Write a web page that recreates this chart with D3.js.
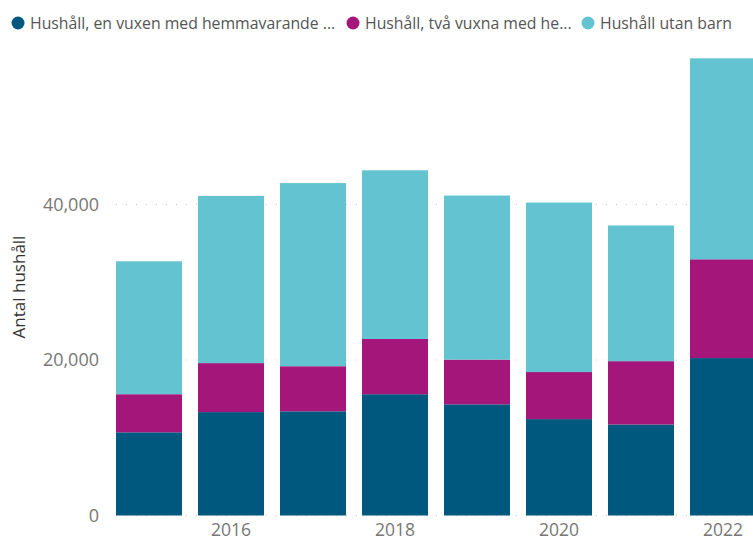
<!DOCTYPE html>
<html>
<head>
<meta charset="utf-8">
<script src="https://cdn.jsdelivr.net/npm/d3@7"></script>
<style>
  body { margin: 0; background: #fff; }
  svg { display: block; font-family: "Segoe UI", "Open Sans", sans-serif; }
</style>
</head>
<body>
<div id="grafico"></div>
<script>
const ar = [2015, 2016, 2017, 2018, 2019, 2020, 2021, 2022];
const enVuxen = [10700, 13300, 13400, 15600, 14300, 12400, 11700, 20250];
const tvaVuxna = [4900, 6300, 5800, 7100, 5750, 6050, 8150, 12700];
const utanBarn = [17100, 21500, 23550, 21700, 21100, 21800, 17450, 25850];

const serier = ["enVuxen", "tvaVuxna", "utanBarn"];
const namn = ["Hushåll, en vuxen med hemmavarande ...", "Hushåll, två vuxna med he...", "Hushåll utan barn"];
const farger = ["#01587F", "#A5167B", "#64C3D0"];
const yTicks = [0, 20000, 40000];
const xTicks = [2016, 2018, 2020, 2022];

const bredd = 753, hojd = 542;

const tabell = ar.map((a, i) => ({ ar: a, enVuxen: enVuxen[i], tvaVuxna: tvaVuxna[i], utanBarn: utanBarn[i] }));
const staplad = d3.stack().keys(serier)(tabell);

const svg = d3.select("#grafico").append("svg")
    .attr("width", bredd)
    .attr("height", hojd);

const x = d3.scaleBand()
    .domain(ar)
    .range([108, 764])
    .paddingInner(0.195)
    .paddingOuter(0.0975);

const y = d3.scaleLinear()
    .domain([0, 60000])
    .range([515.5, 49]);

// stödlinjer
svg.append("g")
    .selectAll("line")
    .data(yTicks)
    .enter().append("line")
    .attr("x1", 116)
    .attr("x2", bredd)
    .attr("y1", d => y(d))
    .attr("y2", d => y(d))
    .style("stroke", "#c8c8c8")
    .style("stroke-width", "1px")
    .style("stroke-dasharray", "1,9");

// staplar
svg.append("g")
    .selectAll("g")
    .data(staplad)
    .enter().append("g")
    .style("fill", (d, i) => farger[i])
    .selectAll("rect")
    .data(d => d)
    .enter().append("rect")
    .attr("x", d => x(d.data.ar))
    .attr("width", x.bandwidth())
    .attr("y", d => y(d[1]))
    .attr("height", d => y(d[0]) - y(d[1]));

// y-axel
const yAxel = svg.append("g")
    .attr("transform", "translate(116,0)")
    .call(d3.axisLeft(y).tickValues(yTicks).tickFormat(d3.format(",")).tickSize(0).tickPadding(17));
yAxel.select(".domain").remove();
yAxel.selectAll("text")
    .style("font-family", "\"Segoe UI\", \"Open Sans\", sans-serif")
    .style("font-size", "18px")
    .style("fill", "#777");

// x-axel
const xAxel = svg.append("g")
    .attr("transform", "translate(0,515.5)")
    .call(d3.axisBottom(x).tickValues(xTicks).tickSize(0).tickPadding(8));
xAxel.select(".domain").remove();
xAxel.selectAll("text")
    .style("font-family", "\"Segoe UI\", \"Open Sans\", sans-serif")
    .style("font-size", "17.5px")
    .style("fill", "#777");

// axeltitel
svg.append("text")
    .attr("transform", "translate(25,287) rotate(-90)")
    .attr("text-anchor", "middle")
    .style("font-size", "17px")
    .style("fill", "#333")
    .text("Antal hushåll");

// förklaring
const legendX = [18, 353, 588];
const legend = svg.append("g")
    .selectAll("g")
    .data(namn)
    .enter().append("g")
    .attr("transform", (d, i) => `translate(${legendX[i]},23)`);

legend.append("circle")
    .attr("r", 6.5)
    .style("fill", (d, i) => farger[i]);

legend.append("text")
    .attr("x", 12)
    .attr("dy", "0.35em")
    .text(d => d)
    .style("font-size", "15.8px")
    .style("fill", "#555");
</script>
</body>
</html>
